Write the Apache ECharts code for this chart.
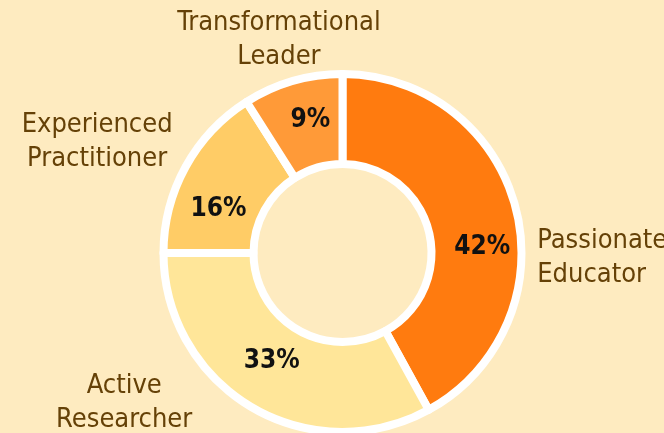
<!DOCTYPE html>
<html>
<head>
<meta charset="utf-8">
<script src="https://cdn.jsdelivr.net/npm/echarts@6/dist/echarts.min.js"></script>
<style>
  html, body { margin: 0; padding: 0; background: #feebc0; }
  #chart { width: 664px; height: 433px; }
</style>
</head>
<body>
<div id="chart"></div>
<script>
  // data
  const categories = ["Passionate Educator", "Active Researcher", "Experienced Practitioner", "Transformational Leader"];
  const shares = [42, 33, 16, 9];
  const sliceColors = ["#ff7b0f", "#ffe699", "#ffcc66", "#ff9a38"];

  // label nudges (dx, dy) from the default pie label spots
  const innerNudge = [[7, 28], [-1, -10], [-4, 22], [6, -1]];
  const outerNudge = [[-3, 54, "left"], [-112, -21, "center"], [-66, -15, "center"], [-3, -22, "center"]];

  const font = '"DejaVu Sans Condensed", "Liberation Sans Narrow", sans-serif';

  const chart = echarts.init(document.getElementById("chart"));

  const pieData = categories.map((name, i) => ({
    name: name,
    value: shares[i],
    itemStyle: { color: sliceColors[i] }
  }));

  const option = {
    backgroundColor: "#feebc0",
    animation: false,
    series: [
      {
        type: "pie",
        center: [342.5, 253],
        radius: [89, 179],
        startAngle: 90,
        clockwise: true,
        avoidLabelOverlap: false,
        data: pieData,
        itemStyle: {
          borderColor: "#ffffff",
          borderWidth: 8
        },
        label: {
          show: true,
          position: "inside",
          formatter: p => p.value + "%",
          color: "#111111",
          fontFamily: font,
          fontWeight: "bold",
          fontSize: 26
        },
        labelLayout: p => ({
          dx: innerNudge[p.dataIndex][0],
          dy: innerNudge[p.dataIndex][1]
        }),
        emphasis: { disabled: true }
      },
      {
        type: "pie",
        center: [342.5, 253],
        radius: [89, 179],
        startAngle: 90,
        clockwise: true,
        silent: true,
        avoidLabelOverlap: false,
        data: categories.map((name, i) => ({ name: name, value: shares[i] })),
        itemStyle: { color: "transparent", borderWidth: 0 },
        label: {
          show: true,
          position: "outside",
          formatter: p => p.name.replace(" ", "\n"),
          color: "#654107",
          fontFamily: font,
          fontSize: 27,
          lineHeight: 34
        },
        labelLine: { show: false, length: 20, length2: 0 },
        labelLayout: p => ({
          dx: outerNudge[p.dataIndex][0],
          dy: outerNudge[p.dataIndex][1],
          align: outerNudge[p.dataIndex][2]
        }),
        emphasis: { disabled: true }
      }
    ]
  };

  chart.setOption(option);
  window.addEventListener("resize", () => chart.resize());
</script>
</body>
</html>
